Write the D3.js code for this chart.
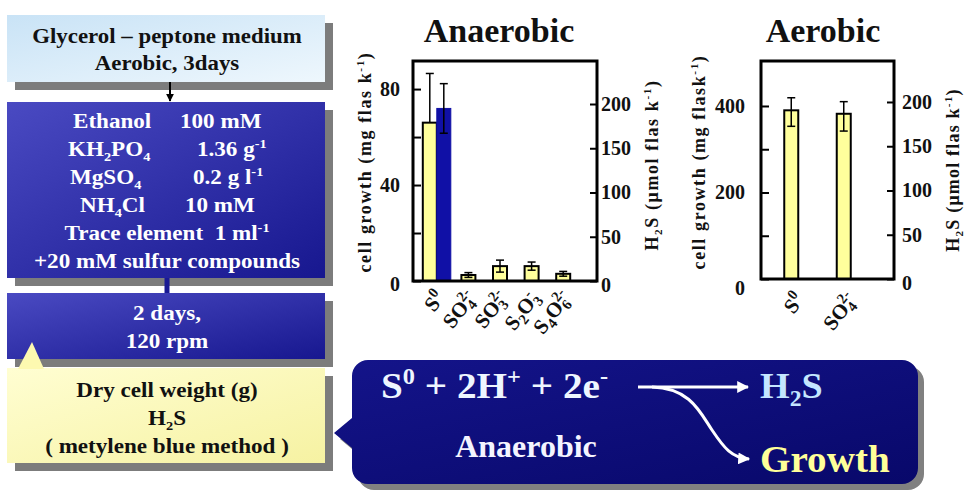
<!DOCTYPE html>
<html>
<head>
<meta charset="utf-8">
<script src="https://cdn.jsdelivr.net/npm/d3@7"></script>
<style>
  body { margin: 0; background: #fff; }
  svg { display: block; }
  text { font-family: "Liberation Serif", "Times New Roman", serif; font-weight: bold; white-space: pre; }
</style>
</head>
<body>
<svg id="c" width="965" height="494"></svg>
<script>
// ---- Anaerobic panel data ----
const anaCategories = ["S^{0}", "SO_{4}^{2-}", "SO_{3}^{2-}", "S_{2}O_{3}^{-}", "S_{4}O_{6}^{2-}"];
const anaGrowth = [66, 2.5, 6.2, 6.2, 3];          // mg flask-1
const anaGrowthErrUp = [20.5, 1, 2.5, 1.7, 1];
const anaGrowthErrDown = [0, 1, 2.5, 1.7, 1];
const anaH2S = [195, null, null, null, null];     // umol flask-1
const anaH2SErr = [28, null, null, null, null];
const anaGrowthTicks = [0, 40, 80];
const anaGrowthMinor = [20, 60];
const anaH2STicks = [0, 50, 100, 150, 200];

// ---- Aerobic panel data ----
const aerCategories = ["S^{0}", "SO_{4}^{2-}"];
const aerGrowth = [390, 382];
const aerGrowthErrUp = [29, 28];
const aerGrowthErrDown = [37, 40];
const aerGrowthTicks = [0, 200, 400];
const aerGrowthMinor = [100, 300];
const aerH2STicks = [0, 50, 100, 150, 200];

// ---- Flow chart text ----
const flowTop = ["Glycerol – peptone medium", "Aerobic, 3days"];
const mediumRows = [["Ethanol", "100 mM"], ["KH_{2}PO_{4}", "1.36 g^{-1}"], ["MgSO_{4}", "0.2 g l^{-1}"], ["NH_{4}Cl", "10 mM"]];
const mediumLines = ["Trace element  1 ml^{-1}", "+20 mM sulfur compounds"];
const cultureLines = ["2 days,", "120 rpm"];
const assayLines = ["Dry cell weight (g)", "H_{2}S", "( metylene blue method )"];

const svg = d3.select("#c");
const defs = svg.append("defs");
const SERIF = '"Liberation Serif", "Times New Roman", serif';
const YELLOW = "#ffff9c";
const BLUE = "#1010a6";

function grad(id, c0, c1, x2 = "100%", y2 = "100%") {
  const g = defs.append("linearGradient").attr("id", id)
    .attr("x1", "0%").attr("y1", "0%").attr("x2", x2).attr("y2", y2);
  g.append("stop").attr("offset", 0).attr("stop-color", c0);
  g.append("stop").attr("offset", 1).attr("stop-color", c1);
}
grad("gLight", "#c9e3f6", "#eef7fd");
grad("gNavy", "#4a4ac2", "#17178f");
grad("gYellow", "#fffed2", "#f6f2a2");
grad("gCallout", "#14148a", "#08086a");

function marker(id, color) {
  defs.append("marker").attr("id", id).attr("viewBox", "0 0 10 10")
    .attr("refX", 9).attr("refY", 5).attr("markerWidth", 4).attr("markerHeight", 4)
    .attr("orient", "auto").attr("markerUnits", "strokeWidth")
    .append("path").attr("d", "M0,0 L10,5 L0,10 Z").attr("fill", color);
}
marker("arrBlack", "#000");
marker("arrWhite", "#fff");

// Rich text: "_{..}" subscript, "^{..}" superscript (stacked after a subscript)
function rich(sel, str, size, small = 0.62) {
  const tokens = str.split(/(_\{[^}]*\}|\^\{[^}]*\})/).filter(s => s.length);
  let shift = 0, subLen = 0, prev = "n";
  tokens.forEach(tok => {
    let kind = "n", t = tok;
    if (tok.startsWith("_{")) { kind = "sub"; t = tok.slice(2, -1); }
    else if (tok.startsWith("^{")) { kind = "sup"; t = tok.slice(2, -1); }
    const target = kind === "sub" ? size * 0.22 : kind === "sup" ? -size * 0.4 : 0;
    const ts = sel.append("tspan").text(t).attr("dy", target - shift);
    if (kind !== "n") ts.attr("font-size", size * small);
    if (kind === "sup" && prev === "sub") ts.attr("dx", -subLen);
    if (kind === "sub") subLen = ts.node().getComputedTextLength();
    shift = target; prev = kind;
  });
  return sel;
}

// Text placed at (x, y), optionally widened horizontally by sx
function label(x, y, str, size, color, anchor = "middle", sx = 1) {
  const t = svg.append("text").attr("transform", `translate(${x},${y}) scale(${sx},1)`)
    .attr("font-size", size).attr("fill", color).attr("text-anchor", anchor);
  return rich(t, str, size);
}

function box(x, y, w, h, fill, off = 8) {
  svg.append("rect").attr("x", x + off).attr("y", y + off).attr("width", w).attr("height", h).attr("fill", "#7c7c7c");
  svg.append("rect").attr("x", x).attr("y", y).attr("width", w).attr("height", h).attr("fill", fill);
}

// ---------------- Flow chart ----------------
box(7, 15, 318, 67, "url(#gLight)");
flowTop.forEach((s, i) => label(167, 43 + i * 27, s, 21, "#111", "middle", 1.09));

svg.append("line").attr("x1", 170).attr("y1", 82).attr("x2", 170).attr("y2", 101)
  .attr("stroke", "#000").attr("stroke-width", 2).attr("marker-end", "url(#arrBlack)");

box(7, 102, 318, 176, "url(#gNavy)");
const leftCol = [73, 68, 70, 80], rightCol = [180, 197, 193, 185];
mediumRows.forEach((r, i) => {
  const y = 128 + i * 28;
  label(leftCol[i], y, r[0], 21, "#fff", "start", 1.1);
  label(rightCol[i], y, r[1], 21, "#fff", "start", 1.1);
});
mediumLines.forEach((s, i) => label(167, 240 + i * 28, s, 21, "#fff", "middle", 1.1));

svg.append("line").attr("x1", 167).attr("y1", 278).attr("x2", 167).attr("y2", 294)
  .attr("stroke", "#1a1a94").attr("stroke-width", 5);

box(7, 293, 318, 66, "url(#gNavy)");
cultureLines.forEach((s, i) => label(167, 320 + i * 28, s, 21, "#fff", "middle", 1.1));

box(7, 368, 318, 95, "url(#gYellow)");
svg.append("path").attr("d", "M18,369 L32,342 L44,369 Z").attr("fill", "#fdf9b0");
assayLines.forEach((s, i) => label(167, 397 + i * 28, s, 21, "#111", "middle", 1.1));

// ---------------- Callout ----------------
function calloutPath(x0, y0, x1, y1, r, py0, py1, ax, ay) {
  const p = d3.path();
  p.moveTo(x0 + r, y0);
  p.lineTo(x1 - r, y0); p.arcTo(x1, y0, x1, y0 + r, r);
  p.lineTo(x1, y1 - r); p.arcTo(x1, y1, x1 - r, y1, r);
  p.lineTo(x0 + r, y1); p.arcTo(x0, y1, x0, y1 - r, r);
  p.lineTo(x0, py1); p.lineTo(ax, ay); p.lineTo(x0, py0);
  p.lineTo(x0, y0 + r); p.arcTo(x0, y0, x0 + r, y0, r);
  p.closePath();
  return p.toString();
}
const cp = calloutPath(352, 360, 918, 484, 16, 418, 448, 334, 433);
svg.append("path").attr("d", cp).attr("fill", "#808080").attr("transform", "translate(6,6)");
svg.append("path").attr("d", cp).attr("fill", "url(#gCallout)");

label(381, 398, "S^{0} + 2H^{+} + 2e^{-}", 36, "#eef6ff", "start", 1.09);
label(760, 398, "H_{2}S", 36, "#c4e6ff", "start", 1.06);
label(526, 457, "Anaerobic", 32, "#f4f4ff");
label(760, 472, "Growth", 38, "#ffff99", "start", 1.03);

svg.append("line").attr("x1", 638).attr("y1", 387).attr("x2", 748).attr("y2", 387)
  .attr("stroke", "#fff").attr("stroke-width", 3).attr("marker-end", "url(#arrWhite)");
svg.append("path").attr("d", "M652,387 C690,388 700,412 712,430 C724,448 732,458 749,459")
  .attr("fill", "none").attr("stroke", "#fff").attr("stroke-width", 3).attr("marker-end", "url(#arrWhite)");

// ---------------- Bar panels ----------------
function errorBar(g, cx, y, v, up, down) {
  if (v == null) return;
  const cap = 4;
  const yt = y(v + (up || 0)), yb = y(v - (down || 0));
  g.append("line").attr("x1", cx).attr("x2", cx).attr("y1", yt).attr("y2", yb).attr("stroke", "#000").attr("stroke-width", 1.5);
  g.append("line").attr("x1", cx - cap).attr("x2", cx + cap).attr("y1", yt).attr("y2", yt).attr("stroke", "#000").attr("stroke-width", 1.5);
  if (down) g.append("line").attr("x1", cx - cap).attr("x2", cx + cap).attr("y1", yb).attr("y2", yb).attr("stroke", "#000").attr("stroke-width", 1.5);
}

function styleAxis(ax) {
  ax.select(".domain").remove();
  ax.attr("font-family", SERIF).attr("font-size", 20).attr("font-weight", "bold");
  ax.selectAll("line").attr("stroke", "#000").attr("stroke-width", 2);
  ax.selectAll("text").attr("fill", "#111");
}

function drawPanel(p) {
  const g = svg.append("g");
  const yL = d3.scaleLinear().domain(p.growthDomain).range([p.bottom, p.top]);
  const yR = d3.scaleLinear().domain(p.h2sDomain).range([p.bottom, p.top]);
  const x = d3.scaleBand().domain(d3.range(p.categories.length)).range(p.band);
  const bw = 14;

  p.categories.forEach((c, i) => {
    const cx = x(i) + x.bandwidth() / 2;
    const paired = p.h2s && p.h2s[i] != null;
    const gx = paired ? cx - bw : cx - bw / 2;
    g.append("rect").attr("x", gx).attr("y", yL(p.growth[i]))
      .attr("width", bw).attr("height", yL(0) - yL(p.growth[i]))
      .attr("fill", YELLOW).attr("stroke", "#000").attr("stroke-width", 2);
    if (paired) {
      g.append("rect").attr("x", cx).attr("y", yR(p.h2s[i]))
        .attr("width", bw).attr("height", yR(0) - yR(p.h2s[i]))
        .attr("fill", BLUE).attr("stroke", BLUE).attr("stroke-width", 1);
    }
  });
  p.categories.forEach((c, i) => {
    const cx = x(i) + x.bandwidth() / 2;
    const paired = p.h2s && p.h2s[i] != null;
    errorBar(g, paired ? cx - bw / 2 : cx, yL, p.growth[i], p.errUp[i], p.errDown[i]);
    if (paired) errorBar(g, cx + bw / 2, yR, p.h2s[i], p.h2sErr[i], p.h2sErr[i]);
    // category label, rotated
    const t = g.append("text")
      .attr("transform", `translate(${cx + p.labelDx},${p.labelY}) rotate(-52)`)
      .attr("text-anchor", "end").attr("font-size", 21).attr("fill", "#111");
    rich(t, c, 21, 0.7);
  });

  g.append("rect").attr("x", p.left).attr("y", p.top)
    .attr("width", p.right - p.left).attr("height", p.bottom - p.top)
    .attr("fill", "none").attr("stroke", "#000").attr("stroke-width", 3);

  const axL = g.append("g").attr("transform", `translate(${p.left},0)`)
    .call(d3.axisLeft(yL).tickValues(p.growthTicks).tickSizeInner(-8).tickSizeOuter(0).tickPadding(p.padL));
  styleAxis(axL);
  axL.selectAll("text").filter(d => d === 0).attr("dy", p.zeroDyL);
  const axLm = g.append("g").attr("transform", `translate(${p.left},0)`)
    .call(d3.axisLeft(yL).tickValues(p.growthMinor).tickFormat(() => "").tickSizeInner(-8).tickSizeOuter(0));
  styleAxis(axLm);
  const axR = g.append("g").attr("transform", `translate(${p.right},0)`)
    .call(d3.axisRight(yR).tickValues(p.h2sTicks).tickSizeInner(-7).tickSizeOuter(0).tickPadding(p.padR));
  styleAxis(axR);
  axR.selectAll("text").filter(d => d === 0).attr("dy", "0.5em");

  label(p.titleX, 42, p.title, 34, "#111");

  const tl = g.append("text").attr("transform", `translate(${p.yTitleLX},${p.yTitleLY}) rotate(-90)`)
    .attr("text-anchor", "middle").attr("font-size", 18).attr("letter-spacing", 1.6).attr("fill", "#111");
  rich(tl, p.yTitleL, 18);
  const tr = g.append("text").attr("transform", `translate(${p.yTitleRX},${p.yTitleRY}) rotate(-90)`)
    .attr("text-anchor", "middle").attr("font-size", 18).attr("letter-spacing", p.rLetter).attr("fill", "#111");
  rich(tr, "H_{2}S (μmol flas k^{-1})", 18);
}

drawPanel({
  title: "Anaerobic", titleX: 499,
  left: 413, right: 597, top: 61, bottom: 281, band: [421, 579],
  categories: anaCategories, growth: anaGrowth, errUp: anaGrowthErrUp, errDown: anaGrowthErrDown,
  h2s: anaH2S, h2sErr: anaH2SErr,
  growthDomain: [0, 91.7], h2sDomain: [0, 248.6],
  growthTicks: anaGrowthTicks, growthMinor: anaGrowthMinor, h2sTicks: anaH2STicks,
  padL: 13, padR: 4, labelDx: 9, labelY: 298, zeroDyL: "0.45em",
  yTitleL: "cell growth (mg flas k^{-1})", yTitleLX: 371, yTitleLY: 162,
  yTitleRX: 658, yTitleRY: 165, rLetter: 1.6
});

drawPanel({
  title: "Aerobic", titleX: 823,
  left: 761, right: 894, top: 61, bottom: 279, band: [765, 870],
  categories: aerCategories, growth: aerGrowth, errUp: aerGrowthErrUp, errDown: aerGrowthErrDown,
  h2s: null, h2sErr: null,
  growthDomain: [0, 504], h2sDomain: [0, 246.3],
  growthTicks: aerGrowthTicks, growthMinor: aerGrowthMinor, h2sTicks: aerH2STicks,
  padL: 16, padR: 8, labelDx: 14, labelY: 300, zeroDyL: "0.75em",
  yTitleL: "cell growth (mg flask^{-1})", yTitleLX: 705, yTitleLY: 162,
  yTitleRX: 959, yTitleRY: 170, rLetter: 1.2
});
</script>
</body>
</html>
